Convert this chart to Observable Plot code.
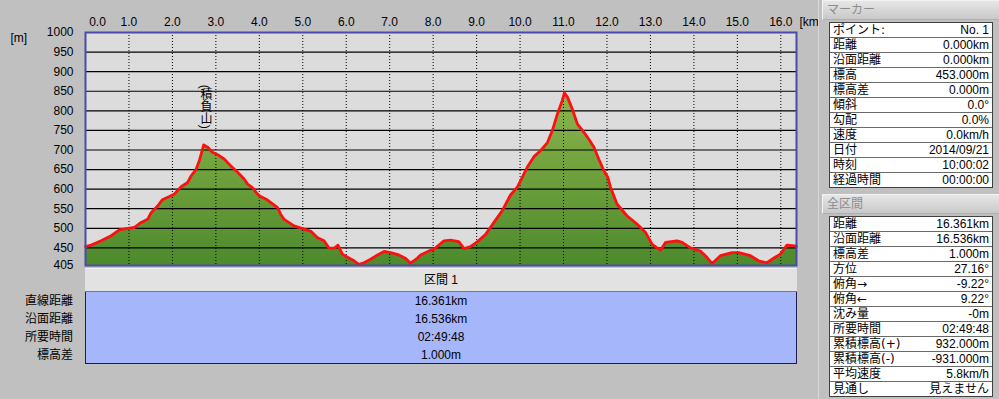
<!DOCTYPE html>
<html><head><meta charset="utf-8">
<script src="https://cdn.jsdelivr.net/npm/d3@7"></script>
<script src="https://cdn.jsdelivr.net/npm/@observablehq/plot@0.6"></script>
<style>
body{margin:0;background:#c0c0c0;font-family:"Liberation Sans","Noto Sans CJK JP",sans-serif;font-size:12px;color:#000;}
#root{position:relative;width:999px;height:399px;overflow:hidden;background:#c0c0c0;}
#chart{position:absolute;left:0;top:0;}
.segHead{position:absolute;left:85px;top:268px;width:712px;height:22px;background:#e2e2e2;border-top:1px solid #f4f4f4;border-bottom:2px solid #7a7a7a;text-align:center;line-height:22px;}
.segBody{position:absolute;left:85px;top:292px;width:710px;height:71px;background:#a6b6fa;border:1px solid #1c1c52;border-top:none;}
.segRow{position:absolute;left:0;width:100%;height:18px;line-height:18px;text-align:center;}
.segLab{position:absolute;left:0;width:73px;height:18px;line-height:18px;text-align:right;}
.panel{position:absolute;left:818px;top:0;width:181px;height:399px;background:#c0c0c0;border-left:1px solid #d8d8d8;}
.hdr{position:absolute;left:822px;width:173px;height:18px;line-height:18px;padding-left:4px;color:#8c8c8c;background:linear-gradient(#e6e6e6,#c9c9c9);border:1px solid #b0b0b0;border-top-color:#f2f2f2;border-left-color:#f2f2f2;}
.tbl{position:absolute;left:829px;width:162px;background:#fff;border:1px solid #404040;}
.row{height:14px;line-height:14px;border-bottom:1px solid #6a6a6a;display:flex;justify-content:space-between;padding:0 3px;white-space:nowrap;overflow:hidden;}
.row:last-child{border-bottom:none;}
.lab{font-family:"DejaVu Sans","Noto Sans CJK JP",sans-serif;}
</style></head><body><div id="root"><div id="chart"></div></div>
<script>
// ---- profile data (distance km / elevation m) ----
const dist = [0.00,0.13,0.36,0.59,0.78,0.97,1.12,1.28,1.43,1.51,
1.66,1.77,1.93,2.04,2.20,2.35,2.43,2.54,2.62,2.72,
2.81,2.92,3.04,3.19,3.34,3.50,3.65,3.73,3.84,3.96,
4.03,4.19,4.42,4.49,4.57,4.80,5.03,5.18,5.34,5.49,
5.60,5.72,5.81,5.91,6.03,6.18,6.29,6.41,6.56,6.72,
6.87,7.02,7.21,7.37,7.48,7.64,7.71,7.94,8.02,8.25,
8.40,8.59,8.71,8.86,9.02,9.21,9.40,9.59,9.78,9.94,
10.05,10.17,10.32,10.47,10.63,10.74,10.86,10.97,11.02,11.09,
11.20,11.32,11.47,11.58,11.70,11.81,11.93,12.02,12.08,12.23,
12.46,12.69,12.89,13.04,13.23,13.35,13.61,13.73,13.92,14.15,
14.30,14.42,14.61,14.88,15.03,15.30,15.49,15.68,15.87,15.99,
16.14,16.33,16.361];
const elev = [453,457,468,481,496,500,502,515,523,540,
557,573,581,587,606,617,634,649,673,713,
707,694,688,677,660,643,626,613,604,587,
581,572,553,536,523,506,498,493,476,468,
450,449,457,434,426,417,408,412,421,432,
441,438,432,423,411,424,432,444,447,468,
470,466,448,453,466,485,515,545,585,606,
630,657,683,698,719,749,792,826,846,835,
805,766,745,728,707,677,647,630,605,562,
532,511,489,459,444,464,468,464,450,442,
426,410,430,438,438,430,417,412,426,434,
457,455,454];

const xTicks = [0,1,2,3,4,5,6,7,8,9,10,11,12,13,14,15,16];
const yTicks = [1000,950,900,850,800,750,700,650,600,550,500,450,405];
const xUnit = "[km]";
const yUnit = "[m]";

const peakNames = ["積負山"];
const peakDist = [2.75];
const peakElev = [713];

const segTitle = "区間 1";
const segLabels = ["直線距離","沿面距離","所要時間","標高差"];
const segValues = ["16.361km","16.536km","02:49:48","1.000m"];

const markerTitle = "マーカー";
const markerLabels = ["ポイント:","距離","沿面距離","標高","標高差","傾斜","勾配","速度","日付","時刻","経過時間"];
const markerValues = ["No. 1","0.000km","0.000km","453.000m","0.000m","0.0°","0.0%","0.0km/h","2014/09/21","10:00:02","00:00:00"];

const totalTitle = "全区間";
const totalLabels = ["距離","沿面距離","標高差","方位","俯角→","俯角←","沈み量","所要時間","累積標高(+)","累積標高(-)","平均速度","見通し"];
const totalValues = ["16.361km","16.536km","1.000m","27.16°","-9.22°","9.22°","-0m","02:49:48","932.000m","-931.000m","5.8km/h","見えません"];

// ---- build ----
const profile = dist.map((d, i) => ({d, v: elev[i]}));
const peaks = peakNames.map((name, i) => ({name, d: peakDist[i], v: peakElev[i]}));
const font = '"Liberation Sans","Noto Sans CJK JP",sans-serif';

const chart = Plot.plot({
  width: 815, height: 268,
  marginLeft: 85, marginRight: 19, marginTop: 32, marginBottom: 3,
  x: {domain: [0, 16.361], axis: null},
  y: {domain: [405, 1000], axis: null},
  style: {background: "transparent", fontFamily: font, fontSize: "12px", overflow: "visible", color: "#000"},
  marks: [
    Plot.frame({fill: "#dcdcdc", stroke: null}),
    Plot.areaY(profile, {x: "d", y1: 405, y2: "v", fill: "url(#elevGrad)", curve: "linear"}),
    Plot.ruleY(yTicks.filter(v => v > 405 && v < 1000), {stroke: "#000", strokeWidth: 1.2}),
    Plot.ruleX(xTicks.filter(d => d > 0), {stroke: "#000", strokeWidth: 1, strokeDasharray: "1,2"}),
    Plot.lineY(profile, {x: "d", y: "v", stroke: "#ff1010", strokeWidth: 2.8, strokeLinejoin: "round"}),
    Plot.frame({stroke: "#4a4aa8", strokeWidth: 2}),
    Plot.text(yTicks, {y: d => d, frameAnchor: "left", dx: -12, textAnchor: "end", text: d => String(d)}),
    Plot.text(xTicks.filter(d => d > 0), {x: d => d, frameAnchor: "top", dy: -15, text: d => d.toFixed(1)}),
    Plot.text(xTicks.filter(d => d === 0), {x: d => d, frameAnchor: "top", dy: -15, dx: 12, text: d => d.toFixed(1)}),
    Plot.text([xUnit], {frameAnchor: "top-right", dx: 3, dy: -15, textAnchor: "start", text: d => d}),
    Plot.text([yUnit], {frameAnchor: "top-left", dx: -75, dy: 1, text: d => d}),
    Plot.text(peaks, {x: "d", y: "v", text: d => "(" + d.name + ")", dy: -42})
  ]
});

// vertical writing for the peak label
d3.select(chart).selectAll("text")
  .filter(function() { return peakNames.some(n => this.textContent === "(" + n + ")"); })
  .style("writing-mode", "vertical-rl")
  .attr("dy", null);

// gradient for area fill
const defs = d3.select(chart).insert("defs", ":first-child");
const grad = defs.append("linearGradient").attr("id", "elevGrad")
  .attr("x1", 0).attr("y1", 0).attr("x2", 0).attr("y2", 1);
grad.append("stop").attr("offset", "0%").attr("stop-color", "#8cb54c");
grad.append("stop").attr("offset", "100%").attr("stop-color", "#4d8a2c");

document.getElementById("chart").appendChild(chart);

const root = document.getElementById("root");
function el(tag, cls, txt, style) {
  const e = document.createElement(tag);
  if (cls) e.className = cls;
  if (txt != null) e.textContent = txt;
  if (style) Object.assign(e.style, style);
  return e;
}
// segment table
root.appendChild(el("div", "segHead", segTitle));
const body = el("div", "segBody");
segValues.forEach((v, i) => body.appendChild(el("div", "segRow", v, {top: (i * 18) + "px"})));
root.appendChild(body);
segLabels.forEach((l, i) => root.appendChild(el("div", "segLab", l, {top: (292 + i * 18) + "px"})));

// right panel
root.appendChild(el("div", "panel"));
root.appendChild(el("div", "hdr", markerTitle, {top: "0px"}));
const mt = el("div", "tbl", null, {top: "22px"});
markerLabels.forEach((l, i) => {
  const r = el("div", "row");
  r.appendChild(el("span", "lab", l));
  r.appendChild(el("span", null, markerValues[i]));
  mt.appendChild(r);
});
root.appendChild(mt);
root.appendChild(el("div", "hdr", totalTitle, {top: "194px"}));
const tt = el("div", "tbl", null, {top: "216px"});
totalLabels.forEach((l, i) => {
  const r = el("div", "row");
  r.appendChild(el("span", "lab", l));
  r.appendChild(el("span", null, totalValues[i]));
  tt.appendChild(r);
});
root.appendChild(tt);
</script>
</body></html>
